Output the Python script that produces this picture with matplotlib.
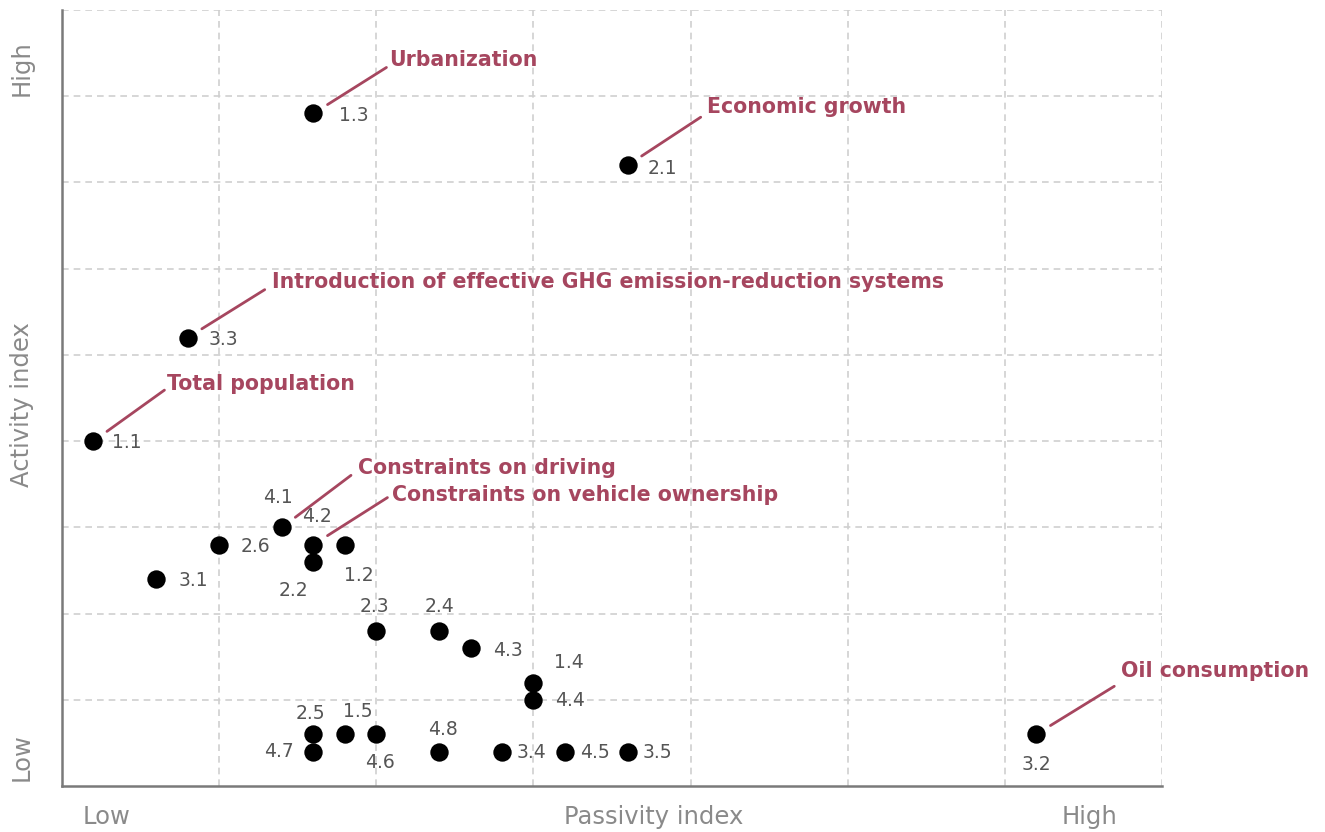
import matplotlib
matplotlib.use("Agg")
import matplotlib.pyplot as plt

# driver codes, passivity (x) and activity (y) positions
codes = ["1.3", "2.1", "3.3", "1.1", "4.1", "2.6", "4.2", "1.2", "2.2", "3.1",
         "2.3", "2.4", "4.3", "1.4", "4.4", "2.5", "1.5", "4.6", "4.7", "4.8",
         "3.4", "4.5", "3.5", "3.2"]
passivity = [1.6, 3.6, 0.8, 0.2, 1.4, 1.0, 1.6, 1.8, 1.6, 0.6,
             2.0, 2.4, 2.6, 3.0, 3.0, 1.6, 1.8, 2.0, 1.6, 2.4,
             2.8, 3.2, 3.6, 6.2]
activity = [7.8, 7.2, 5.2, 4.0, 3.0, 2.8, 2.8, 2.8, 2.6, 2.4,
            1.8, 1.8, 1.6, 1.2, 1.0, 0.6, 0.6, 0.6, 0.4, 0.4,
            0.4, 0.4, 0.4, 0.6]

# where each code label sits relative to its dot (pixels) and alignment
label_offsets = {
    "1.3": (26, -2, "left"), "2.1": (20, -3, "left"), "3.3": (21, -2, "left"),
    "1.1": (19, -1, "left"), "4.1": (-4, 30, "center"), "2.6": (21, -2, "left"),
    "4.2": (4, 28, "center"), "1.2": (14, -31, "center"), "2.2": (-20, -29, "center"),
    "3.1": (22, -1, "left"), "2.3": (-2, 24, "center"), "2.4": (0, 24, "center"),
    "4.3": (22, -2, "left"), "1.4": (21, 20, "left"), "4.4": (22, -1, "left"),
    "2.5": (-3, 21, "center"), "1.5": (13, 23, "center"), "4.6": (4, -28, "center"),
    "4.7": (-20, 0, "right"), "4.8": (4, 22, "center"), "3.4": (15, -1, "left"),
    "4.5": (15, -1, "left"), "3.5": (15, -1, "left"), "3.2": (0, -30, "center"),
}

# named drivers with leader lines
named = ["1.3", "2.1", "3.3", "1.1", "4.1", "4.2", "3.2"]
names = ["Urbanization", "Economic growth",
         "Introduction of effective GHG emission-reduction systems",
         "Total population", "Constraints on driving",
         "Constraints on vehicle ownership", "Oil consumption"]

red = "#a6465f"
grey_txt = "#8a8a8a"

plt.rcParams["font.family"] = ["DejaVu Sans"]
fig = plt.figure(figsize=(13.25, 8.32), dpi=100)
ax = fig.add_axes([62 / 1325, 46 / 832, 1100 / 1325, 776 / 832])
ax.set_xlim(0, 7)
ax.set_ylim(0, 9)

ax.set_xticks(range(1, 8))
ax.set_yticks(range(1, 10))
ax.tick_params(length=0, labelbottom=False, labelleft=False)
ax.grid(True, color="#cfcfcf", linestyle=(0, (4, 3)), linewidth=1.2)
ax.set_axisbelow(True)
for s in ["top", "right"]:
    ax.spines[s].set_visible(False)
for s in ["left", "bottom"]:
    ax.spines[s].set_color("#7a7a7a")
    ax.spines[s].set_linewidth(1.8)

ax.scatter(passivity, activity, s=175, color="black", zorder=3, linewidths=0)

for c, x, y in zip(codes, passivity, activity):
    dx, dy, ha = label_offsets[c]
    ax.annotate(c, (x, y), xytext=(dx, dy), textcoords="offset pixels",
                ha=ha, va="center", fontsize=13.5, color="#555555")

# leader line end and text start offsets, pixels
lines_end = [(73, 46), (73, 48), (77, 48), (71, 51), (69, 52), (74, 47), (78, 48)]
text_pos = [(76, 53), (79, 58), (84, 56), (74, 57), (76, 59), (79, 50), (85, 63)]

for c, name, le, tp in zip(named, names, lines_end, text_pos):
    i = codes.index(c)
    x, y = passivity[i], activity[i]
    ax.annotate("", (x, y), xytext=le, textcoords="offset pixels",
                arrowprops=dict(arrowstyle="-", color=red, lw=2,
                                shrinkA=0, shrinkB=12))
    ax.annotate(name, (x, y), xytext=tp, textcoords="offset pixels",
                ha="left", va="center", fontsize=14.8, color=red,
                fontweight="bold")

axis_font = dict(fontsize=17.5, color=grey_txt, ha="center", va="center")
fig.text(107 / 1325, 1 - 817 / 832, "Low", **axis_font)
fig.text(654 / 1325, 1 - 817 / 832, "Passivity index", **axis_font)
fig.text(1090 / 1325, 1 - 817 / 832, "High", **axis_font)
fig.text(22 / 1325, 1 - 68 / 832, "High", rotation=90, **axis_font)
fig.text(22 / 1325, 1 - 405 / 832, "Activity index", rotation=90, **axis_font)
fig.text(22 / 1325, 1 - 757 / 832, "Low", rotation=90, **axis_font)

fig.savefig("out.png", dpi=100)
